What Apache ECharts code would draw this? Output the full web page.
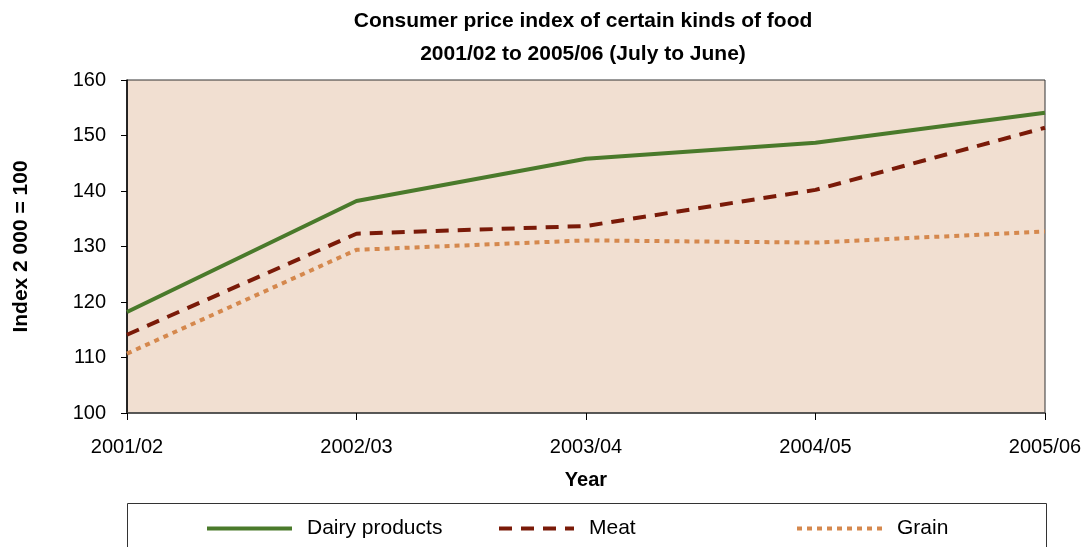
<!DOCTYPE html>
<html><head><meta charset="utf-8">
<script src="https://cdn.jsdelivr.net/npm/echarts@6/dist/echarts.min.js"></script>
<style>html,body{margin:0;padding:0;background:#fff}#c{width:1083px;height:547px}</style>
</head><body><div id="c"></div>
<script>
var years = ['2001/02','2002/03','2003/04','2004/05','2005/06'];
var dairy = [118.2, 138.2, 145.8, 148.7, 154.1];
var meat = [114.1, 132.3, 133.7, 140.2, 151.4];
var grain = [110.7, 129.4, 131.1, 130.7, 132.7];
var seriesNames = ['Dairy products','Meat','Grain'];
var yTicks = {min: 100, max: 160, step: 10};

var font = 'Liberation Sans, Arial, Helvetica, sans-serif';
var chart = echarts.init(document.getElementById('c'), null, {renderer:'canvas'});
function leg(name, left, w){
  return {
    data:[name], left:left, top:518, itemWidth:w, itemHeight:10, padding:0,
    itemStyle:{opacity:0},
    lineStyle:{width:4},
    textStyle:{fontFamily:font, fontSize:21, color:'#000', padding:[0,0,0,10]},
    selectedMode:false
  };
}
chart.setOption({
  animation:false,
  backgroundColor:'#fff',
  title:{
    text:'Consumer price index of certain kinds of food\n2001/02 to 2005/06 (July to June)',
    left:583, top:5, textAlign:'center', padding:0,
    textStyle:{fontFamily:font, fontSize:21, fontWeight:'bold', color:'#000', lineHeight:33}
  },
  grid:{left:127, right:38, top:80, bottom:134, outerBoundsMode:'none', containLabel:false, show:true, backgroundColor:'#f1dfd1', borderColor:'#333', borderWidth:1},
  legend:[leg(seriesNames[0],205,85), leg(seriesNames[1],497,75), leg(seriesNames[2],795,85)],
  graphic:[{type:'rect', shape:{x:127.5, y:503.5, width:919, height:60}, style:{fill:'none', stroke:'#333', lineWidth:1}, z:-1}],
  xAxis:{
    type:'category', data:years, boundaryGap:false,
    name:'Year', nameLocation:'middle', nameGap:57,
    nameTextStyle:{fontFamily:font, fontSize:20, fontWeight:'bold', color:'#000'},
    axisLine:{lineStyle:{color:'#444', width:1.5}},
    axisTick:{length:7, lineStyle:{color:'#000'}},
    axisLabel:{fontFamily:font, fontSize:20, color:'#000', margin:24}
  },
  yAxis:{
    type:'value', min:yTicks.min, max:yTicks.max, interval:yTicks.step,
    name:'Index 2 000 = 100', nameLocation:'middle', nameGap:95,
    nameTextStyle:{fontFamily:font, fontSize:21, fontWeight:'bold', color:'#000'},
    axisLine:{show:true, lineStyle:{color:'#000', width:1.5}},
    axisTick:{show:true, length:6, lineStyle:{color:'#000'}},
    axisLabel:{fontFamily:font, fontSize:20, color:'#000', margin:21},
    splitLine:{show:false}
  },
  series:[
    {name:seriesNames[0], type:'line', data:dairy, symbol:'none', lineStyle:{color:'#4a7a2b', width:4}, itemStyle:{color:'#4a7a2b'}},
    {name:seriesNames[1], type:'line', data:meat, symbol:'none', lineStyle:{color:'#7a1a08', width:4, type:[13,9], cap:'butt'}, itemStyle:{color:'#7a1a08'}},
    {name:seriesNames[2], type:'line', data:grain, symbol:'none', lineStyle:{color:'#d5884d', width:4, type:[5,5], cap:'butt'}, itemStyle:{color:'#d5884d'}}
  ]
});
</script></body></html>
